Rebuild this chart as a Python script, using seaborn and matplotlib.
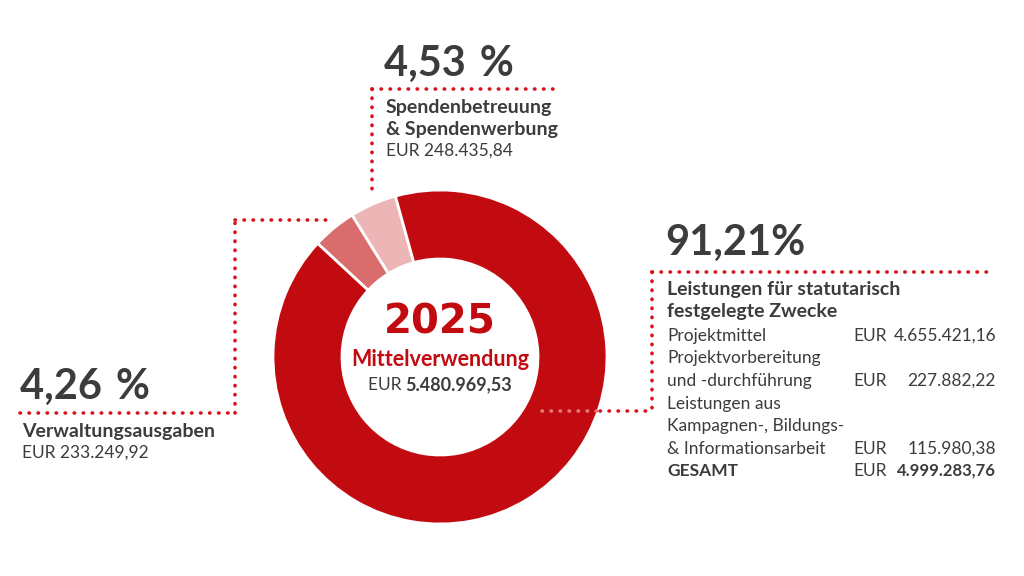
import matplotlib
matplotlib.use('Agg')
import matplotlib.pyplot as plt
import seaborn as sns

# data
SEGMENTS = ['Spendenbetreuung & Spendenwerbung', 'Verwaltungsausgaben',
            'Leistungen für statutarisch festgelegte Zwecke']
SHARES = [4.53, 4.26, 91.21]
SHARE_LABELS = ['4,53 %', '4,26 %', '91,21%']
AMOUNTS = ['248.435,84', '233.249,92', '4.999.283,76']
DETAIL_ROWS = [['Projektmittel'],
               ['Projektvorbereitung', 'und -durchführung'],
               ['Leistungen aus', 'Kampagnen-, Bildungs-', '& Informationsarbeit']]
DETAIL_VALUES = ['4.655.421,16', '227.882,22', '115.980,38']
TOTAL = '5.480.969,53'
YEAR = '2025'

RED = '#C20B10'
COLORS = ['#EDB5B6', '#D96D6D', RED]
DOT = '#D9121C'
GREY = '#3C3C3B'
W, H = 1024, 576

sns.set_theme(style='white')
plt.rcParams['font.family'] = ['Lato', 'DejaVu Sans']
plt.rcParams['lines.scale_dashes'] = False

fig = plt.figure(figsize=(W / 100, H / 100), dpi=100)
ax = fig.add_axes([0, 0, 1, 1])


def Y(y):
    return H - y


ax.pie(SHARES, colors=COLORS, startangle=105.5, counterclock=True,
       center=(440, Y(357)), radius=167,
       wedgeprops={'width': 69, 'edgecolor': 'white', 'linewidth': 2})
ax.set_xlim(0, W)
ax.set_ylim(0, H)
ax.set_aspect('equal')
ax.axis('off')


def dots(xs, ys, color=DOT):
    ax.plot(xs, [Y(v) for v in ys], color=color, lw=2.6,
            linestyle=(0, (0.3, 6.2)), dash_capstyle='round',
            solid_capstyle='round', zorder=5)


# connectors
dots([372, 555], [89, 89])
dots([372, 372], [89, 197])
dots([20, 235], [413, 413])
dots([235, 235], [413, 220])
dots([235, 332], [220, 220])
dots([652, 995], [272, 272])
dots([652, 652], [272, 411])
dots([600, 652], [411, 411])
dots([542, 598], [411, 411], color='#E57A7A')

big = dict(fontsize=30, fontweight='bold', color=GREY, va='center', ha='left')
bold = dict(fontsize=14, fontweight='bold', color=GREY, va='center', ha='left')
reg = dict(fontsize=12.5, color=GREY, va='center', ha='left')

# top label
ax.text(384, Y(64), SHARE_LABELS[0].replace(' ', '\u2004'), **big)
ax.text(386, Y(107), 'Spendenbetreuung', **bold)
ax.text(386, Y(129), '& Spendenwerbung', **bold)
ax.text(386, Y(151), 'EUR ' + AMOUNTS[0], **reg)

# left label
ax.text(20, Y(387), SHARE_LABELS[1].replace(' ', '\u2004'), **big)
ax.text(22, Y(432), 'Verwaltungsausgaben', **bold)
ax.text(22, Y(453), 'EUR ' + AMOUNTS[1], **reg)

# right label
ax.text(665, Y(243), SHARE_LABELS[2], **big)
ax.text(667, Y(290), 'Leistungen für statutarisch', **bold)
ax.text(667, Y(312), 'festgelegte Zwecke', **bold)
y = 336
for lines, val in zip(DETAIL_ROWS, DETAIL_VALUES):
    for i, line in enumerate(lines):
        ax.text(667, Y(y), line, **reg)
        if i == len(lines) - 1:
            ax.text(853, Y(y), 'EUR', **reg)
            ax.text(996, Y(y), val, **{**reg, 'ha': 'right'})
        y += 22.5
ax.text(667, Y(y), 'GESAMT', **{**bold, 'fontsize': 12.5})
ax.text(853, Y(y), 'EUR', **reg)
ax.text(996, Y(y), AMOUNTS[2], **{**bold, 'fontsize': 12, 'ha': 'right'})

# centre
ax.text(440, Y(323), YEAR, fontsize=29, fontweight='bold', color=RED,
        ha='center', va='center', family=['DejaVu Sans'])
ax.text(440, Y(360), 'Mittelverwendung', fontsize=15.5, fontweight='bold',
        color=RED, ha='center', va='center')
t1 = ax.text(440, Y(385), 'EUR ', fontsize=12.5, color=GREY,
             ha='right', va='center')
t2 = ax.text(440, Y(385), TOTAL, fontsize=13, fontweight='bold',
             color=GREY, ha='left', va='center')
fig.canvas.draw()
r = fig.canvas.get_renderer()
w1 = t1.get_window_extent(r).width
w2 = t2.get_window_extent(r).width
shift = (w1 - w2) / 2
t1.set_x(440 + shift)
t2.set_x(440 + shift)

fig.savefig('out.png', dpi=100)
